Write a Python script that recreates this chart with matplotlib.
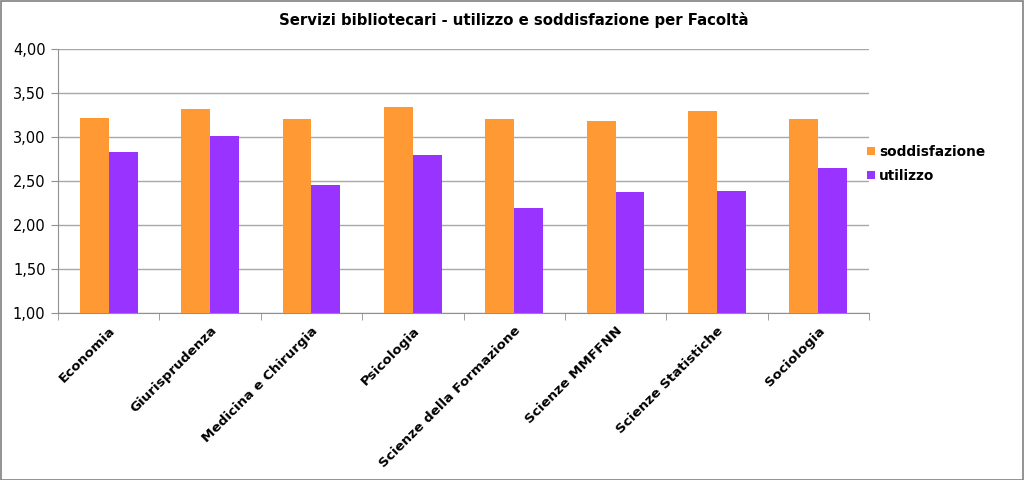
import matplotlib
matplotlib.use("Agg")
import matplotlib.pyplot as plt
from matplotlib.patches import Rectangle
from matplotlib.ticker import FuncFormatter
import numpy as np

categories = ["Economia", "Giurisprudenza", "Medicina e Chirurgia", "Psicologia",
              "Scienze della Formazione", "Scienze MMFFNN", "Scienze Statistiche", "Sociologia"]
soddisfazione = [3.22, 3.32, 3.20, 3.34, 3.20, 3.18, 3.29, 3.21]
utilizzo = [2.83, 3.01, 2.46, 2.80, 2.19, 2.37, 2.39, 2.65]
title = "Servizi bibliotecari - utilizzo e soddisfazione per Facoltà"

plt.rcParams['font.family'] = ['DejaVu Sans']

fig = plt.figure(figsize=(10.24, 4.8), dpi=100)
ax = fig.add_axes([58/1024, 1-313/480, (869-58)/1024, (313-49)/480])

x = np.arange(len(categories))
w = 0.285
ax.bar(x - w/2, soddisfazione, w, color="#FF9933", label="soddisfazione", zorder=3)
ax.bar(x + w/2, utilizzo, w, color="#9933FF", label="utilizzo", zorder=3)

ax.set_ylim(1.0, 4.0)
ax.set_xlim(-0.5, len(categories) - 0.5)
ax.set_yticks(np.arange(1.0, 4.01, 0.5))
ax.yaxis.set_major_formatter(FuncFormatter(lambda v, p: f"{v:.2f}".replace(".", ",")))
ax.grid(axis="y", color="#A8A8A8", linewidth=1, zorder=0)
ax.set_xticks(x)
ax.set_xticklabels(categories, rotation=45, ha="right", rotation_mode="anchor",
                   fontweight="bold", fontsize=9.7)
ax.set_xticks(np.arange(-0.5, len(categories), 1), minor=True)
ax.tick_params(axis="x", which="major", length=0, pad=8)
ax.tick_params(axis="x", which="minor", length=5, color="#909090")
ax.tick_params(axis="y", length=5, color="#909090", labelsize=10.5, pad=4)

for s in ["top", "right"]:
    ax.spines[s].set_visible(False)
for s in ["left", "bottom"]:
    ax.spines[s].set_color("#909090")

fig.text(0.5 * (58 + 969) / 1024, 1 - 20/480, title, ha="center", va="center",
         fontsize=10.7, fontweight="bold")

leg = ax.legend(loc="center left", bbox_to_anchor=(1.0 - 14/811, 0.565), frameon=False,
                prop={"weight": "bold", "size": 9.8}, handlelength=0.55,
                handleheight=0.55, handletextpad=0.3, labelspacing=0.75)

fig.patches.append(Rectangle((0.001, 0.001), 0.998, 0.997, transform=fig.transFigure,
                             fill=False, edgecolor="#808080", linewidth=1.2))

fig.savefig("out.png", dpi=100)
